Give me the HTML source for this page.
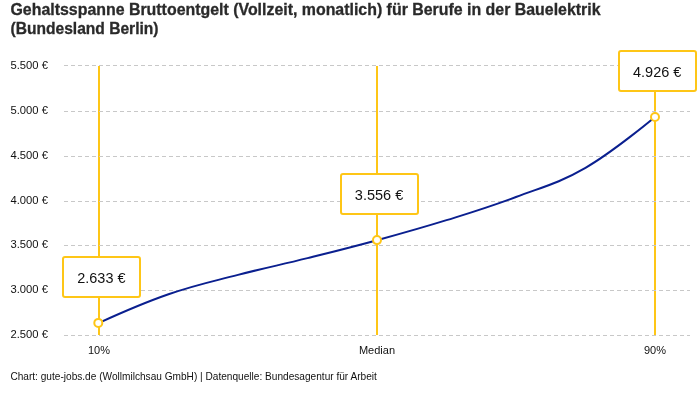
<!DOCTYPE html>
<html><head><meta charset="utf-8">
<style>
html,body{margin:0;padding:0;background:#fff;width:700px;height:400px;overflow:hidden}
svg{display:block;will-change:transform}
text{font-family:"Liberation Sans",sans-serif}
</style></head><body>
<svg width="700" height="400" viewBox="0 0 700 400">
<rect width="700" height="400" fill="#fff"/>
<g font-weight="bold" font-size="16" fill="#2a2a2a" stroke="#2a2a2a" stroke-width="0.3">
<text x="10.5" y="15" textLength="590" lengthAdjust="spacingAndGlyphs">Gehaltsspanne Bruttoentgelt (Vollzeit, monatlich) für Berufe in der Bauelektrik</text>
<text x="10.5" y="34" textLength="148" lengthAdjust="spacingAndGlyphs">(Bundesland Berlin)</text>
</g>
<g fill="#fec617">
<rect x="98" y="66" width="2" height="269"/>
<rect x="376" y="66" width="2" height="269"/>
<rect x="654" y="66" width="2" height="269"/>
</g>
<line x1="64" y1="65.5" x2="690" y2="65.5" stroke="#c8c8c8" stroke-width="1" stroke-dasharray="4 3"/>
<line x1="64" y1="111.5" x2="690" y2="111.5" stroke="#c8c8c8" stroke-width="1" stroke-dasharray="4 3"/>
<line x1="64" y1="156.5" x2="690" y2="156.5" stroke="#c8c8c8" stroke-width="1" stroke-dasharray="4 3"/>
<line x1="64" y1="201.5" x2="690" y2="201.5" stroke="#c8c8c8" stroke-width="1" stroke-dasharray="4 3"/>
<line x1="64" y1="245.5" x2="690" y2="245.5" stroke="#c8c8c8" stroke-width="1" stroke-dasharray="4 3"/>
<line x1="64" y1="290.5" x2="690" y2="290.5" stroke="#c8c8c8" stroke-width="1" stroke-dasharray="4 3"/>
<line x1="64" y1="335.5" x2="690" y2="335.5" stroke="#c8c8c8" stroke-width="1" stroke-dasharray="4 3"/>

<g font-size="11" fill="#111">
<text x="10.5" y="68.90" textLength="37.5" lengthAdjust="spacingAndGlyphs">5.500 €</text>
<text x="10.5" y="113.77" textLength="37.5" lengthAdjust="spacingAndGlyphs">5.000 €</text>
<text x="10.5" y="158.64" textLength="37.5" lengthAdjust="spacingAndGlyphs">4.500 €</text>
<text x="10.5" y="203.51" textLength="37.5" lengthAdjust="spacingAndGlyphs">4.000 €</text>
<text x="10.5" y="248.38" textLength="37.5" lengthAdjust="spacingAndGlyphs">3.500 €</text>
<text x="10.5" y="293.25" textLength="37.5" lengthAdjust="spacingAndGlyphs">3.000 €</text>
<text x="10.5" y="338.12" textLength="37.5" lengthAdjust="spacingAndGlyphs">2.500 €</text>

</g>
<path d="M99.00 322.90 C99.00 322.90 140.70 303.90 168.50 294.30 C196.30 284.70 210.20 282.13 238.00 274.90 C265.80 267.67 279.70 265.09 307.50 258.15 C335.30 251.21 349.20 247.80 377.00 240.20 C404.80 232.60 418.70 228.81 446.50 220.17 C474.30 211.53 488.20 207.47 516.00 197.00 C543.80 186.53 557.70 183.80 585.50 167.80 C613.30 151.80 655.00 117.00 655.00 117.00" fill="none" stroke="#0a1f8f" stroke-width="2" stroke-linejoin="round" stroke-linecap="round"/>
<g fill="#fff" stroke="#fec617" stroke-width="2">
<circle cx="98.3" cy="322.9" r="4"/>
<circle cx="377" cy="240.1" r="4"/>
<circle cx="655" cy="117" r="4"/>
</g>
<g fill="#fff" stroke="#fec617" stroke-width="2">
<rect x="63" y="257" width="77" height="40" rx="2"/>
<rect x="341" y="174" width="77" height="40" rx="2"/>
<rect x="619" y="51" width="77" height="40" rx="2"/>
</g>
<g font-size="15.2" fill="#111">
<text x="77.3" y="283" textLength="48.2" lengthAdjust="spacingAndGlyphs">2.633 €</text>
<text x="354.8" y="200" textLength="48.5" lengthAdjust="spacingAndGlyphs">3.556 €</text>
<text x="633" y="76.8" textLength="48.4" lengthAdjust="spacingAndGlyphs">4.926 €</text>
</g>
<g font-size="11" fill="#111" text-anchor="middle">
<text x="99" y="354">10%</text>
<text x="377" y="354">Median</text>
<text x="655" y="354">90%</text>
</g>
<text x="10.4" y="380" font-size="10.1" fill="#111" textLength="366.5" lengthAdjust="spacingAndGlyphs">Chart: gute-jobs.de (Wollmilchsau GmbH) | Datenquelle: Bundesagentur für Arbeit</text>
</svg>
</body></html>
